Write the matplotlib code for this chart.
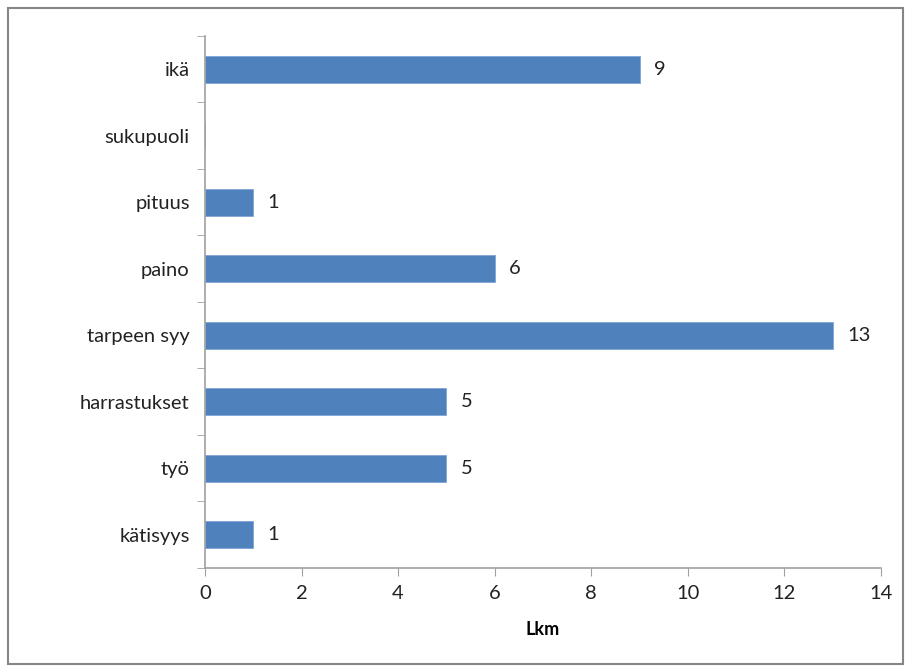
import numpy as np
import matplotlib.pyplot as plt
from matplotlib.patches import Rectangle

categories = ["kätisyys", "työ", "harrastukset", "tarpeen syy", "paino", "pituus", "sukupuoli", "ikä"]
counts = [1, 5, 5, 13, 6, 1, 0, 9]
x_ticks = [0, 2, 4, 6, 8, 10, 12, 14]

plt.rcParams['font.family'] = ['Lato', 'DejaVu Sans']

fig = plt.figure(figsize=(9.11, 6.71), dpi=100)
ax = fig.add_axes([0.225, 0.1535, 0.742, 0.793])

# outer chart border
fig.patches.append(Rectangle((8 / 911, 7 / 671), 895 / 911, 656 / 671, transform=fig.transFigure,
                             fill=False, edgecolor="#868686", linewidth=1.5))

y = np.arange(len(categories))
ax.barh(y, counts, height=0.41, color="#4F81BD", edgecolor="#7FA5D6", linewidth=0.6)

for yi, v in zip(y, counts):
    if v > 0:
        ax.text(v + 0.3, yi, str(v), va="center", ha="left", fontsize=14.5, color="#222222")

ax.set_xlim(0, 14)
ax.set_ylim(-0.5, len(categories) - 0.5)
ax.set_xticks(x_ticks)
ax.set_yticks(y)
ax.set_yticklabels(categories)
ax.set_yticks(np.arange(-0.5, len(categories)), minor=True)

for s in ["top", "right"]:
    ax.spines[s].set_visible(False)
for s in ["left", "bottom"]:
    ax.spines[s].set_color("#A0A0A0")
    ax.spines[s].set_linewidth(1.2)

ax.tick_params(axis="x", direction="out", length=6, color="#A0A0A0", labelsize=14.5, labelcolor="#222222", pad=6)
ax.tick_params(axis="y", which="major", length=0, labelsize=14.5, labelcolor="#222222", pad=11)
ax.tick_params(axis="y", which="minor", direction="out", length=6, color="#A0A0A0")

ax.set_xlabel("Lkm", fontsize=13, fontweight="bold", labelpad=14)

fig.savefig("out.png", dpi=100)
